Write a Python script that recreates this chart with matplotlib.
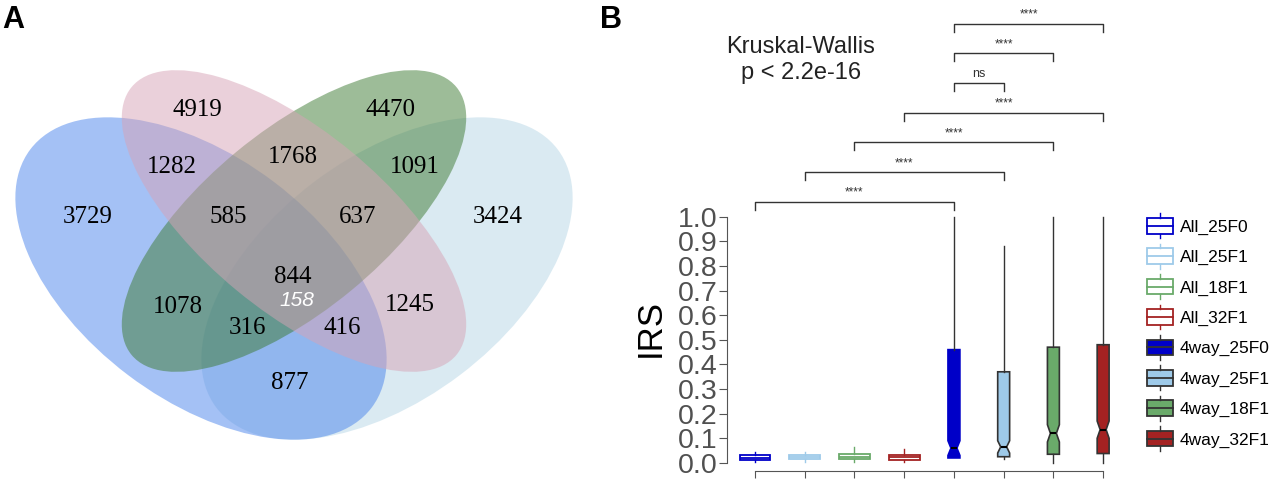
import matplotlib
matplotlib.use("Agg")
import matplotlib.pyplot as plt
import numpy as np
from matplotlib.patches import Ellipse, Rectangle
from matplotlib.lines import Line2D
from matplotlib.legend_handler import HandlerBase

# ---- panel A: venn region counts ----
venn_counts = [3729, 4919, 4470, 3424, 1282, 1768, 1091, 585,
               637, 844, 158, 1078, 1245, 316, 416, 877]

# ---- panel B: box statistics ----
groups = ["All_25F0", "All_25F1", "All_18F1", "All_32F1",
          "4way_25F0", "4way_25F1", "4way_18F1", "4way_32F1"]
q1 = [0.012, 0.015, 0.015, 0.013, 0.020, 0.025, 0.035, 0.038]
median = [0.020, 0.022, 0.025, 0.022, 0.060, 0.065, 0.120, 0.135]
q3 = [0.030, 0.030, 0.038, 0.033, 0.460, 0.370, 0.470, 0.480]
whislo = [0.005, 0.005, 0.005, 0.005, 0.020, 0.015, 0.000, 0.000]
whishi = [0.045, 0.045, 0.065, 0.058, 1.000, 0.880, 1.000, 1.000]
notch_lo = [0.020, 0.022, 0.025, 0.022, 0.030, 0.040, 0.085, 0.100]
notch_hi = [0.020, 0.022, 0.025, 0.022, 0.090, 0.090, 0.155, 0.170]

# pairwise comparisons (1-based group index) and their labels
pairs = [(5, 8), (5, 7), (5, 6), (4, 8), (3, 7), (2, 6), (1, 5)]
pair_labels = ["****", "****", "ns", "****", "****", "****", "****"]

box_colors = ["#0000c8", "#9ecae9", "#6aaa6a", "#a42222"] * 2

SANS = ["Liberation Sans", "DejaVu Sans"]


class BoxHandler(HandlerBase):
    def create_artists(self, legend, orig_handle, xdescent, ydescent,
                       width, height, fontsize, trans):
        fc = orig_handle.get_facecolor()
        ec = orig_handle.get_edgecolor()
        x0, y0 = -xdescent, -ydescent
        box = Rectangle((x0, y0), width, height, facecolor=fc,
                        edgecolor=ec, lw=1.3, transform=trans)
        mid = y0 + height / 2
        cx = x0 + width / 2
        med = Line2D([x0, x0 + width], [mid, mid], color=ec, lw=1.3,
                     transform=trans)
        wt = Line2D([cx, cx], [y0 + height, y0 + height * 1.3], color=ec,
                    lw=1.0, transform=trans)
        wb = Line2D([cx, cx], [y0 - height * 0.3, y0], color=ec, lw=1.0,
                    transform=trans)
        return [box, med, wt, wb]


def draw_venn(ax):
    ax.set_xlim(0, 600)
    ax.set_ylim(480, 0)
    ax.axis("off")
    # order: light blue, blue, green, pink
    ells = [((387, 278.5), 428, 242, -37.1, "#b6d6e6"),
            ((201, 278.5), 428, 242, 37.1, "#4a84ec"),
            ((294, 221), 421, 180, -39.5, "#3d7a32"),
            ((294, 221), 421, 180, 39.5, "#d7a3b6")]
    for c, w, h, ang, col in ells:
        ax.add_patch(Ellipse(c, w, h, angle=ang, facecolor=col,
                             edgecolor="none", alpha=0.5))
    label_pos = [(88, 217), (197, 110), (390, 110), (498, 217), (172, 167),
                 (293, 157), (415, 167), (228, 217), (358, 217), (293, 277),
                 (297, 300), (178, 307), (410, 305), (247, 328), (342, 328),
                 (290, 383)]
    for n, (x, y) in zip(venn_counts, label_pos):
        if n == 158:
            ax.text(x, y, str(n), ha="center", va="center", fontsize=15,
                    color="white", style="italic", family=SANS)
        else:
            ax.text(x, y, str(n), ha="center", va="center", fontsize=18,
                    family=["Liberation Serif", "DejaVu Serif"])


def draw_boxes(ax):
    stats = []
    for i in range(len(groups)):
        stats.append(dict(med=median[i], q1=q1[i], q3=q3[i],
                          whislo=whislo[i], whishi=whishi[i],
                          cilo=notch_lo[i], cihi=notch_hi[i], fliers=[],
                          label=groups[i]))
    pos = np.arange(1, len(groups) + 1)

    allb = ax.bxp(stats[:4], positions=pos[:4], widths=0.62,
                  showfliers=False, showcaps=False, patch_artist=True)
    for i in range(4):
        c = box_colors[i]
        allb["boxes"][i].set(facecolor="white", edgecolor=c, lw=1.3)
        allb["medians"][i].set(color=c, lw=1.3)
        allb["whiskers"][2 * i].set(color=c, lw=1.0)
        allb["whiskers"][2 * i + 1].set(color=c, lw=1.0)

    fourb = ax.bxp(stats[4:], positions=pos[4:], widths=0.24,
                   showfliers=False, showcaps=False, patch_artist=True,
                   shownotches=True)
    for i in range(4):
        c = box_colors[4 + i]
        ec = c if i == 0 else "#333333"
        fourb["boxes"][i].set(facecolor=c, edgecolor=ec, lw=1.2)
        fourb["medians"][i].set(color="black", lw=1.5)
        fourb["whiskers"][2 * i].set(color="#333333", lw=1.0)
        fourb["whiskers"][2 * i + 1].set(color="#333333", lw=1.0)

    ax.set_xlim(0.437, 8.5)
    ax.set_ylim(-0.033, 1.86)
    for s in ["top", "right"]:
        ax.spines[s].set_visible(False)
    ax.spines["left"].set_bounds(0, 1)
    ax.spines["bottom"].set_bounds(1, 8)
    ax.spines["left"].set_color("#555555")
    ax.spines["bottom"].set_color("#555555")
    ax.set_yticks(np.arange(0, 1.01, 0.1))
    ax.set_yticklabels(["%.1f" % v for v in np.arange(0, 1.01, 0.1)],
                       family=SANS)
    ax.set_xticks(pos)
    ax.set_xticklabels([""] * len(pos))
    ax.tick_params(axis="y", labelsize=20.5, length=6, color="#555555",
                   labelcolor="#505050", pad=1)
    ax.tick_params(axis="x", length=5, color="#555555")

    # significance brackets
    leg = 0.033
    for k, ((a, b), lab) in enumerate(zip(pairs, pair_labels)):
        y = 1.061 + 0.1205 * (len(pairs) - 1 - k)
        ax.plot([a, a, b, b], [y - leg, y, y, y - leg], color="#333333",
                lw=1.0, clip_on=False)
        ax.text((a + b) / 2, y + 0.012, lab, ha="center", va="bottom",
                fontsize=9 if lab == "ns" else 8.5, color="#333333",
                family=SANS)

    handles = [Rectangle((0, 0), 1, 1, facecolor="white",
                         edgecolor=box_colors[i]) for i in range(4)]
    handles += [Rectangle((0, 0), 1, 1, facecolor=box_colors[i],
                          edgecolor="#333333") for i in range(4, 8)]
    fig = ax.figure
    fig.legend(handles, groups, handler_map={Rectangle: BoxHandler()},
               loc="upper left", bbox_to_anchor=(1147 / 1280, 1 - 218 / 480),
               bbox_transform=fig.transFigure, frameon=False,
               prop={"family": SANS, "size": 12.5}, handlelength=1.5,
               handleheight=1.0, labelspacing=0.78, handletextpad=0.4,
               borderpad=0, borderaxespad=0)


def main():
    fig = plt.figure(figsize=(12.8, 4.8), dpi=100)

    axA = fig.add_axes([0, 0, 600 / 1280, 1])
    draw_venn(axA)

    axB = fig.add_axes([727 / 1280, 9 / 480, 401 / 1280, 466 / 480])
    draw_boxes(axB)

    fig.text(650 / 1280, 1 - 328 / 480, "IRS", rotation=90, ha="center",
             va="center", fontsize=25, family=SANS)
    fig.text(801 / 1280, 1 - 60 / 480, "Kruskal-Wallis\np < 2.2e-16",
             ha="center", va="center", fontsize=17, linespacing=1.2,
             color="#222222", family=SANS)

    fig.text(2 / 1280, 1 - 20 / 480, "A", fontsize=22, weight="bold",
             va="center", family=SANS)
    fig.text(600 / 1280, 1 - 20 / 480, "B", fontsize=22, weight="bold",
             va="center", family=SANS)

    fig.savefig("out.png", dpi=100)


if __name__ == "__main__":
    main()
